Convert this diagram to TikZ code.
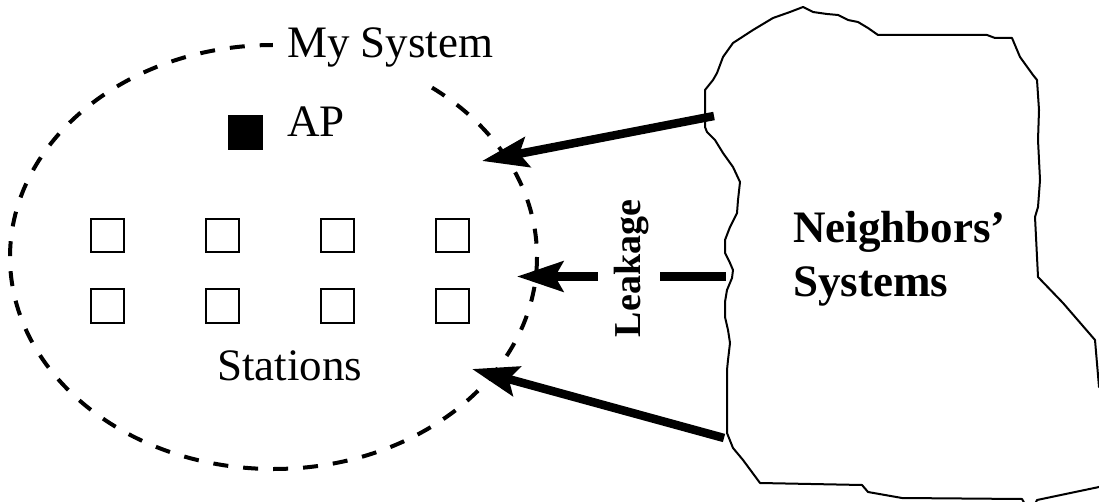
\documentclass[tikz,border=0pt]{standalone}
\usepackage{fontspec}
\setmainfont{Liberation Serif}
\usetikzlibrary{arrows.meta}
\newlength\stasize
\setlength\stasize{33pt}
\tikzset{
	lbl/.style={font=\fontsize{45}{54}\selectfont, inner sep=0pt, anchor=base west},
	nbr/.style={font=\fontsize{45}{54}\selectfont\bfseries, inner sep=0pt, anchor=base west},
	sta/.style={draw, line width=2pt, minimum size=\stasize, inner sep=0pt},
	leak/.style={line width=8.5pt, -{Stealth[length=46pt,width=30pt,inset=8pt]}},
}

\begin{document}
\begin{tikzpicture}[x=1pt,y=-1pt]
    \useasboundingbox (0,0) rectangle (1099,502);

    \draw[line width=4pt, dash pattern=on 15pt off 15pt] (273.5,257) ellipse [x radius=263.5, y radius=212]; % my system
    \node[lbl, fill=white, inner sep=14pt] (mysys) at (273,58) {My System};

    \node[sta, fill=black] (ap) at (245.5,133) {};
    \node[lbl] (aplbl) at (287,137) {AP};
    \foreach \c/\x in {1/107,2/222,3/337,4/452}
        \foreach \r/\y in {1/236,2/306}
            \node[sta] (st\r\c) at (\x,\y) {};
    \node[lbl] (stlbl) at (217,380) {Stations};

    \begin{scope}
    \clip (0,0) rectangle (1099,502); % cloud runs off the page
    \draw[line width=2pt, line join=round] (803,7) -- (790,12) -- (773,18) -- (753,30) -- (733,43) -- (723,57)
        -- (717,73) -- (713,80) -- (705,90) -- (705,127) -- (707,132) -- (715,140) -- (723,153) -- (733,167)
        -- (740,182) -- (738,200) -- (737,213) -- (730,227) -- (725,240) -- (725,253) -- (730,263) -- (733,270)
        -- (732,278) -- (727,290) -- (725,302) -- (725,317) -- (728,330) -- (730,343) -- (728,360) -- (727,370)
        -- (727,433) -- (733,448) -- (743,460) -- (760,483) -- (862,485) -- (868,492) -- (902,498) -- (1022,499)
        -- (1026,506) -- (1034,506) -- (1037,500) -- (1099,487) -- (1110,480) -- (1110,390) -- (1099,387)
        -- (1095,340) -- (1063,303) -- (1038,277) -- (1035,217) -- (1038,207) -- (1040,180) -- (1038,140)
        -- (1039,110) -- (1037,80) -- (1033,75) -- (1020,57) -- (1012,38) -- (995,38) -- (987,35) -- (878,35)
        -- (868,28) -- (858,22) -- (848,20) -- (838,15) -- (827,14) -- (813,12) -- cycle;
    \end{scope}
    \node[nbr] (nb1) at (793,243) {Neighbors'};
    \node[nbr] (nb2) at (793,297) {Systems};

    \coordinate (n1) at (714,116);
    \coordinate (m1) at (482,161);
    \coordinate (n2) at (726,276.5);
    \coordinate (m2) at (517,276.5);
    \coordinate (n3) at (724,438);
    \coordinate (m3) at (472,369);
    \draw[leak] (n1) -- (m1);
    \draw[leak, dash pattern=on 66pt off 62pt on 300pt] (n2) -- (m2);
    \draw[leak] (n3) -- (m3);
    \node[rotate=90, anchor=base, font=\fontsize{38}{40}\selectfont\bfseries, inner sep=0pt] (lklbl) at (640,268.5) {Leakage};
  \end{tikzpicture}
\end{document}
